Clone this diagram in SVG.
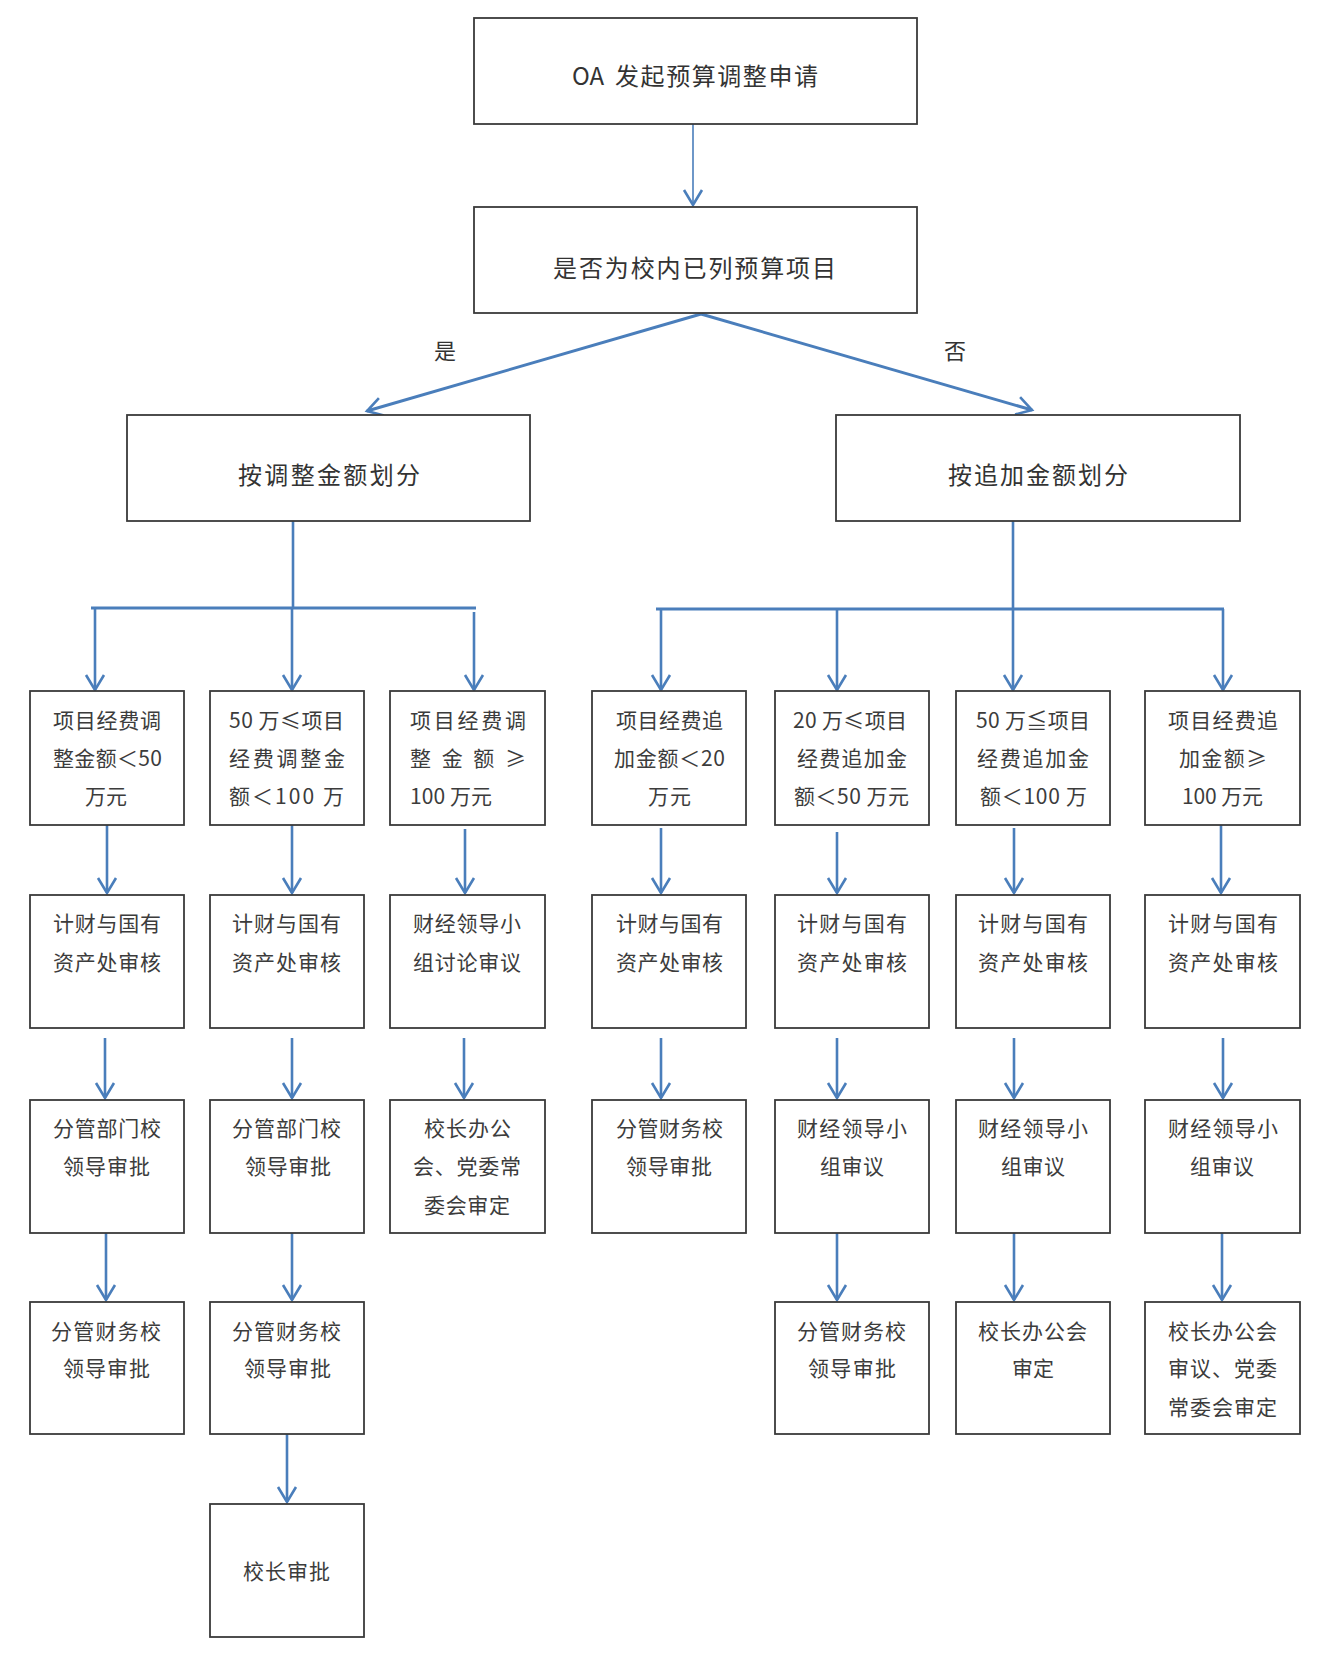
<svg xmlns="http://www.w3.org/2000/svg" width="1324" height="1659" viewBox="0 0 1324 1659">
<style>
.box{fill:#fff;stroke:#3a3a3a;stroke-width:1.8}
.t{font-family:"Noto Sans CJK SC","Noto Sans",sans-serif;font-size:21px;fill:#3c3c3c}
.tb{font-family:"Noto Sans CJK SC","Noto Sans",sans-serif;font-size:24px;fill:#333}
.tl{font-family:"Noto Sans CJK SC","Noto Sans",sans-serif;font-size:22px;fill:#333}
.c{fill:none;stroke:#4a7ebb;stroke-width:2.6}
.thin{stroke-width:1.6}
.thick{stroke-width:3}
</style>
<defs>
<marker id="ah" markerUnits="userSpaceOnUse" viewBox="-20 -15 30 30" markerWidth="30" markerHeight="30" refX="0" refY="0" orient="auto" overflow="visible">
<path d="M-15,-9 L0,0 L-15,9" fill="none" stroke="#4a7ebb" stroke-width="2.6"/>
</marker>
</defs>
<rect width="1324" height="1659" fill="#fff"/>
<g id="connectors">
<line class="c thin" x1="693" y1="124" x2="693" y2="205" marker-end="url(#ah)"/>
<line class="c thick" x1="701" y1="314" x2="367" y2="411" marker-end="url(#ah)"/>
<line class="c thick" x1="701" y1="314" x2="1032" y2="410" marker-end="url(#ah)"/>
<line class="c" x1="293" y1="521" x2="293" y2="608"/>
<line class="c thick" x1="91" y1="608" x2="476" y2="608"/>
<line class="c" x1="95" y1="608" x2="95" y2="690" marker-end="url(#ah)"/>
<line class="c" x1="292" y1="608" x2="292" y2="690" marker-end="url(#ah)"/>
<line class="c" x1="474" y1="612" x2="474" y2="690" marker-end="url(#ah)"/>
<line class="c" x1="1013" y1="521" x2="1013" y2="690" marker-end="url(#ah)"/>
<line class="c thick" x1="656" y1="609" x2="1224" y2="609"/>
<line class="c" x1="661" y1="609" x2="661" y2="690" marker-end="url(#ah)"/>
<line class="c" x1="837" y1="609" x2="837" y2="690" marker-end="url(#ah)"/>
<line class="c" x1="1223" y1="609" x2="1223" y2="690" marker-end="url(#ah)"/>
<line class="c" x1="107" y1="825" x2="107" y2="893" marker-end="url(#ah)"/>
<line class="c" x1="292" y1="825" x2="292" y2="893" marker-end="url(#ah)"/>
<line class="c" x1="465" y1="829" x2="465" y2="893" marker-end="url(#ah)"/>
<line class="c" x1="661" y1="828" x2="661" y2="893" marker-end="url(#ah)"/>
<line class="c" x1="837" y1="832" x2="837" y2="893" marker-end="url(#ah)"/>
<line class="c" x1="1014" y1="828" x2="1014" y2="893" marker-end="url(#ah)"/>
<line class="c" x1="1221" y1="825" x2="1221" y2="893" marker-end="url(#ah)"/>
<line class="c" x1="105" y1="1038" x2="105" y2="1098" marker-end="url(#ah)"/>
<line class="c" x1="292" y1="1038" x2="292" y2="1098" marker-end="url(#ah)"/>
<line class="c" x1="464" y1="1038" x2="464" y2="1098" marker-end="url(#ah)"/>
<line class="c" x1="661" y1="1038" x2="661" y2="1098" marker-end="url(#ah)"/>
<line class="c" x1="837" y1="1038" x2="837" y2="1098" marker-end="url(#ah)"/>
<line class="c" x1="1014" y1="1038" x2="1014" y2="1098" marker-end="url(#ah)"/>
<line class="c" x1="1223" y1="1038" x2="1223" y2="1098" marker-end="url(#ah)"/>
<line class="c" x1="106" y1="1233" x2="106" y2="1300" marker-end="url(#ah)"/>
<line class="c" x1="292" y1="1233" x2="292" y2="1300" marker-end="url(#ah)"/>
<line class="c" x1="837" y1="1233" x2="837" y2="1300" marker-end="url(#ah)"/>
<line class="c" x1="1014" y1="1233" x2="1014" y2="1300" marker-end="url(#ah)"/>
<line class="c" x1="1222" y1="1233" x2="1222" y2="1300" marker-end="url(#ah)"/>
<line class="c" x1="287" y1="1434" x2="287" y2="1502" marker-end="url(#ah)"/>
</g>
<g id="labels">
<text class="tl" x="445" y="359" text-anchor="middle">是</text>
<text class="tl" x="955" y="359" text-anchor="middle">否</text>
</g>
<g id="n_top"><rect class="box" x="474" y="18" width="443" height="106"/><text class="tb" x="572" y="85">OA</text><text class="tb" x="615" y="85" textLength="203" lengthAdjust="spacing">发起预算调整申请</text></g>
<g id="n_q"><rect class="box" x="474" y="207" width="443" height="106"/><text class="tb" x="553" y="277" textLength="283" lengthAdjust="spacing">是否为校内已列预算项目</text></g>
<g id="n_adj"><rect class="box" x="127" y="415" width="403" height="106"/><text class="tb" x="238" y="484" textLength="182" lengthAdjust="spacing">按调整金额划分</text></g>
<g id="n_add"><rect class="box" x="836" y="415" width="404" height="106"/><text class="tb" x="948" y="484" textLength="180" lengthAdjust="spacing">按追加金额划分</text></g>

<g id="A1"><rect class="box" x="30" y="691" width="154" height="134"/>
<text class="t" x="53" y="728" textLength="108" lengthAdjust="spacing">项目经费调</text>
<text class="t" x="53" y="766" textLength="109" lengthAdjust="spacing">整金额＜50</text>
<text class="t" x="85" y="804" textLength="42" lengthAdjust="spacing">万元</text></g>
<g id="B1"><rect class="box" x="210" y="691" width="154" height="134"/>
<text class="t" x="229" y="728" textLength="115" lengthAdjust="spacing">50 万≤项目</text>
<text class="t" x="229" y="766" textLength="116" lengthAdjust="spacing">经费调整金</text>
<text class="t" x="229" y="804" textLength="115" lengthAdjust="spacing">额＜100  万</text></g>
<g id="C1"><rect class="box" x="390" y="691" width="155" height="134"/>
<text class="t" x="410" y="728" textLength="116" lengthAdjust="spacing">项目经费调</text>
<text class="t" x="410" y="766" textLength="116" lengthAdjust="spacing">整 金 额 ≥</text>
<text class="t" x="410" y="804" textLength="82" lengthAdjust="spacing">100 万元</text></g>
<g id="D1"><rect class="box" x="592" y="691" width="154" height="134"/>
<text class="t" x="616" y="728" textLength="107" lengthAdjust="spacing">项目经费追</text>
<text class="t" x="614" y="766" textLength="111" lengthAdjust="spacing">加金额＜20</text>
<text class="t" x="648" y="804" textLength="43" lengthAdjust="spacing">万元</text></g>
<g id="E1"><rect class="box" x="775" y="691" width="154" height="134"/>
<text class="t" x="793" y="728" textLength="114" lengthAdjust="spacing">20 万≤项目</text>
<text class="t" x="797" y="766" textLength="110" lengthAdjust="spacing">经费追加金</text>
<text class="t" x="794" y="804" textLength="115" lengthAdjust="spacing">额＜50 万元</text></g>
<g id="F1"><rect class="box" x="956" y="691" width="154" height="134"/>
<text class="t" x="976" y="728" textLength="114" lengthAdjust="spacing">50 万≦项目</text>
<text class="t" x="977" y="766" textLength="112" lengthAdjust="spacing">经费追加金</text>
<text class="t" x="980" y="804" textLength="107" lengthAdjust="spacing">额＜100 万</text></g>
<g id="G1"><rect class="box" x="1145" y="691" width="155" height="134"/>
<text class="t" x="1168" y="728" textLength="110" lengthAdjust="spacing">项目经费追</text>
<text class="t" x="1179" y="766" textLength="88" lengthAdjust="spacing">加金额≥</text>
<text class="t" x="1182" y="804" textLength="81" lengthAdjust="spacing">100 万元</text></g>

<g id="A2"><rect class="box" x="30" y="895" width="154" height="133"/>
<text class="t" x="53" y="931" textLength="108" lengthAdjust="spacing">计财与国有</text>
<text class="t" x="53" y="970" textLength="108" lengthAdjust="spacing">资产处审核</text></g>
<g id="B2"><rect class="box" x="210" y="895" width="154" height="133"/>
<text class="t" x="232" y="931" textLength="109" lengthAdjust="spacing">计财与国有</text>
<text class="t" x="232" y="970" textLength="109" lengthAdjust="spacing">资产处审核</text></g>
<g id="C2"><rect class="box" x="390" y="895" width="155" height="133"/>
<text class="t" x="413" y="931" textLength="108" lengthAdjust="spacing">财经领导小</text>
<text class="t" x="413" y="970" textLength="108" lengthAdjust="spacing">组讨论审议</text></g>
<g id="D2"><rect class="box" x="592" y="895" width="154" height="133"/>
<text class="t" x="616" y="931" textLength="107" lengthAdjust="spacing">计财与国有</text>
<text class="t" x="616" y="970" textLength="107" lengthAdjust="spacing">资产处审核</text></g>
<g id="E2"><rect class="box" x="775" y="895" width="154" height="133"/>
<text class="t" x="797" y="931" textLength="110" lengthAdjust="spacing">计财与国有</text>
<text class="t" x="797" y="970" textLength="110" lengthAdjust="spacing">资产处审核</text></g>
<g id="F2"><rect class="box" x="956" y="895" width="154" height="133"/>
<text class="t" x="978" y="931" textLength="110" lengthAdjust="spacing">计财与国有</text>
<text class="t" x="978" y="970" textLength="110" lengthAdjust="spacing">资产处审核</text></g>
<g id="G2"><rect class="box" x="1145" y="895" width="155" height="133"/>
<text class="t" x="1168" y="931" textLength="110" lengthAdjust="spacing">计财与国有</text>
<text class="t" x="1168" y="970" textLength="110" lengthAdjust="spacing">资产处审核</text></g>

<g id="A3"><rect class="box" x="30" y="1100" width="154" height="133"/>
<text class="t" x="53" y="1136" textLength="108" lengthAdjust="spacing">分管部门校</text>
<text class="t" x="63" y="1174" textLength="87" lengthAdjust="spacing">领导审批</text></g>
<g id="B3"><rect class="box" x="210" y="1100" width="154" height="133"/>
<text class="t" x="232" y="1136" textLength="109" lengthAdjust="spacing">分管部门校</text>
<text class="t" x="245" y="1174" textLength="86" lengthAdjust="spacing">领导审批</text></g>
<g id="C3"><rect class="box" x="390" y="1100" width="155" height="133"/>
<text class="t" x="424" y="1136" textLength="87" lengthAdjust="spacing">校长办公</text>
<text class="t" x="413" y="1174" textLength="108" lengthAdjust="spacing">会、党委常</text>
<text class="t" x="424" y="1213" textLength="86" lengthAdjust="spacing">委会审定</text></g>
<g id="D3"><rect class="box" x="592" y="1100" width="154" height="133"/>
<text class="t" x="616" y="1136" textLength="107" lengthAdjust="spacing">分管财务校</text>
<text class="t" x="626" y="1174" textLength="86" lengthAdjust="spacing">领导审批</text></g>
<g id="E3"><rect class="box" x="775" y="1100" width="154" height="133"/>
<text class="t" x="797" y="1136" textLength="110" lengthAdjust="spacing">财经领导小</text>
<text class="t" x="820" y="1174" textLength="64" lengthAdjust="spacing">组审议</text></g>
<g id="F3"><rect class="box" x="956" y="1100" width="154" height="133"/>
<text class="t" x="978" y="1136" textLength="110" lengthAdjust="spacing">财经领导小</text>
<text class="t" x="1001" y="1174" textLength="64" lengthAdjust="spacing">组审议</text></g>
<g id="G3"><rect class="box" x="1145" y="1100" width="155" height="133"/>
<text class="t" x="1168" y="1136" textLength="110" lengthAdjust="spacing">财经领导小</text>
<text class="t" x="1190" y="1174" textLength="64" lengthAdjust="spacing">组审议</text></g>

<g id="A4"><rect class="box" x="30" y="1302" width="154" height="132"/>
<text class="t" x="51" y="1339" textLength="110" lengthAdjust="spacing">分管财务校</text>
<text class="t" x="63" y="1376" textLength="87" lengthAdjust="spacing">领导审批</text></g>
<g id="B4"><rect class="box" x="210" y="1302" width="154" height="132"/>
<text class="t" x="232" y="1339" textLength="109" lengthAdjust="spacing">分管财务校</text>
<text class="t" x="244" y="1376" textLength="87" lengthAdjust="spacing">领导审批</text></g>
<g id="E4"><rect class="box" x="775" y="1302" width="154" height="132"/>
<text class="t" x="797" y="1339" textLength="109" lengthAdjust="spacing">分管财务校</text>
<text class="t" x="808" y="1376" textLength="88" lengthAdjust="spacing">领导审批</text></g>
<g id="F4"><rect class="box" x="956" y="1302" width="154" height="132"/>
<text class="t" x="978" y="1339" textLength="109" lengthAdjust="spacing">校长办公会</text>
<text class="t" x="1012" y="1376" textLength="42" lengthAdjust="spacing">审定</text></g>
<g id="G4"><rect class="box" x="1145" y="1302" width="155" height="132"/>
<text class="t" x="1168" y="1339" textLength="109" lengthAdjust="spacing">校长办公会</text>
<text class="t" x="1168" y="1376" textLength="109" lengthAdjust="spacing">审议、党委</text>
<text class="t" x="1168" y="1415" textLength="109" lengthAdjust="spacing">常委会审定</text></g>

<g id="B5"><rect class="box" x="210" y="1504" width="154" height="133"/>
<text class="t" x="243" y="1579" textLength="87" lengthAdjust="spacing">校长审批</text></g>
</svg>
